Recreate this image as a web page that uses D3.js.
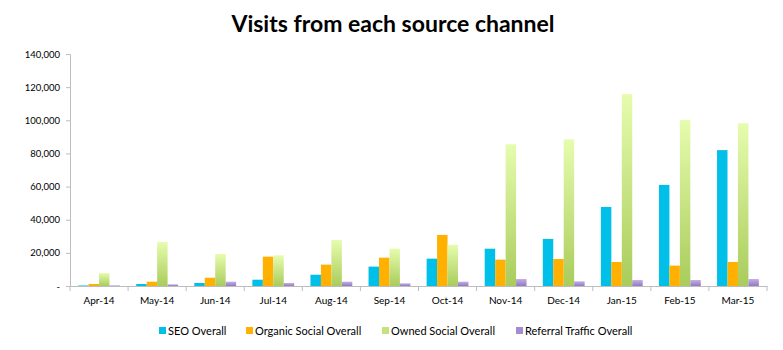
<!DOCTYPE html>
<html><head><meta charset="utf-8">
<script src="https://cdn.jsdelivr.net/npm/d3@7"></script>
<style>body{margin:0;background:#fff}svg{display:block}</style>
</head><body>
<svg id="c" width="783" height="350"></svg>
<script>
const categories = ["Apr-14","May-14","Jun-14","Jul-14","Aug-14","Sep-14","Oct-14","Nov-14","Dec-14","Jan-15","Feb-15","Mar-15"];
const seriesNames = ["SEO Overall","Organic Social Overall","Owned Social Overall","Referral Traffic Overall"];
const seoOverall = [300,1200,1800,3800,6800,11700,16500,22500,28400,47700,61000,82000];
const organicSocial = [1200,2600,5000,17700,12900,17100,30800,15900,16300,14500,12300,14500];
const ownedSocial = [7800,26500,19300,18500,27800,22500,24900,85500,88500,115800,100200,98200];
const referralTraffic = [400,1000,2600,1800,2600,1600,2600,4200,2800,3600,3600,4200];
const yTicks = [0,20000,40000,60000,80000,100000,120000,140000];

const series = [seoOverall, organicSocial, ownedSocial, referralTraffic];
const svg = d3.select("#c");
const font = "Lato, 'Open Sans', sans-serif";
const m = {l:70, r:16, t:54, b:64};
const W = 783, H = 350;

const defs = svg.append("defs");
const gG = defs.append("linearGradient").attr("id","gGreen").attr("x1",0).attr("y1",0).attr("x2",0).attr("y2",1);
gG.append("stop").attr("offset","0%").attr("stop-color","#e6fcae");
gG.append("stop").attr("offset","100%").attr("stop-color","#a9cc5b");
const gP = defs.append("linearGradient").attr("id","gPurple").attr("x1",0).attr("y1",0).attr("x2",0).attr("y2",1);
gP.append("stop").attr("offset","0%").attr("stop-color","#c2b0e2");
gP.append("stop").attr("offset","100%").attr("stop-color","#9478c4");
const fills = ["#00bfe8","#ffb000","url(#gGreen)","url(#gPurple)"];
const legendFills = ["#00bfe8","#ffb000","#c4e37f","#a58bd0"];

const x = d3.scaleBand().domain(categories).range([m.l, W-m.r]).paddingInner(0.28).paddingOuter(0.14);
const xOuter = d3.scaleBand().domain(categories).range([m.l, W-m.r]);
const y = d3.scaleLinear().domain([0,140000]).range([H-m.b, m.t]);
const x1 = d3.scaleBand().domain(d3.range(4)).range([0, x.bandwidth()]);

svg.append("text").attr("x", 393).attr("y", 32).attr("text-anchor","middle")
  .attr("font-family", font).attr("font-weight","bold").attr("font-size", 23).attr("fill","#000")
  .text("Visits from each source channel");

// y axis
const yAxis = svg.append("g").attr("transform",`translate(${m.l},0)`)
  .call(d3.axisLeft(y).tickValues(yTicks).tickSize(4).tickPadding(6)
    .tickFormat(d => d === 0 ? "-" : d3.format(",")(d)));
yAxis.select(".domain").attr("stroke","#bdbdbd");
yAxis.selectAll(".tick line").attr("stroke","#bdbdbd");
yAxis.selectAll("text").attr("font-family", font).attr("font-size", 9.5).attr("fill","#000");

// bars
const groups = svg.append("g").selectAll("g").data(categories).join("g")
  .attr("transform", d => `translate(${x(d)},0)`);
groups.selectAll("rect").data((c,i) => series.map((s,k)=>({k, v:s[i]}))).join("rect")
  .attr("x", d => x1(d.k)).attr("width", x1.bandwidth())
  .attr("y", d => y(d.v)).attr("height", d => y(0)-y(d.v))
  .attr("fill", d => fills[d.k]);

// x axis
const xAxis = svg.append("g").attr("transform",`translate(0,${y(0)})`)
  .call(d3.axisBottom(xOuter).tickSize(0).tickPadding(11));
xAxis.select(".domain").attr("stroke","#bdbdbd");
xAxis.selectAll("text").attr("font-family", font).attr("font-size", 10).attr("fill","#000");
xAxis.selectAll(".bound").data(d3.range(categories.length+1)).join("line")
  .attr("x1", i => m.l + i*xOuter.step()).attr("x2", i => m.l + i*xOuter.step())
  .attr("y1", 0).attr("y2", 5).attr("stroke","#bdbdbd");

// legend
const legX = [159, 246, 382, 516];
const leg = svg.append("g").selectAll("g").data(seriesNames).join("g")
  .attr("transform",(d,i)=>`translate(${legX[i]},327)`);
leg.append("rect").attr("width",7).attr("height",7).attr("fill",(d,i)=>legendFills[i]);
leg.append("text").attr("x",9).attr("y",8).attr("font-family",font).attr("font-size",11).attr("fill","#000").text(d=>d);
</script>
</body></html>
